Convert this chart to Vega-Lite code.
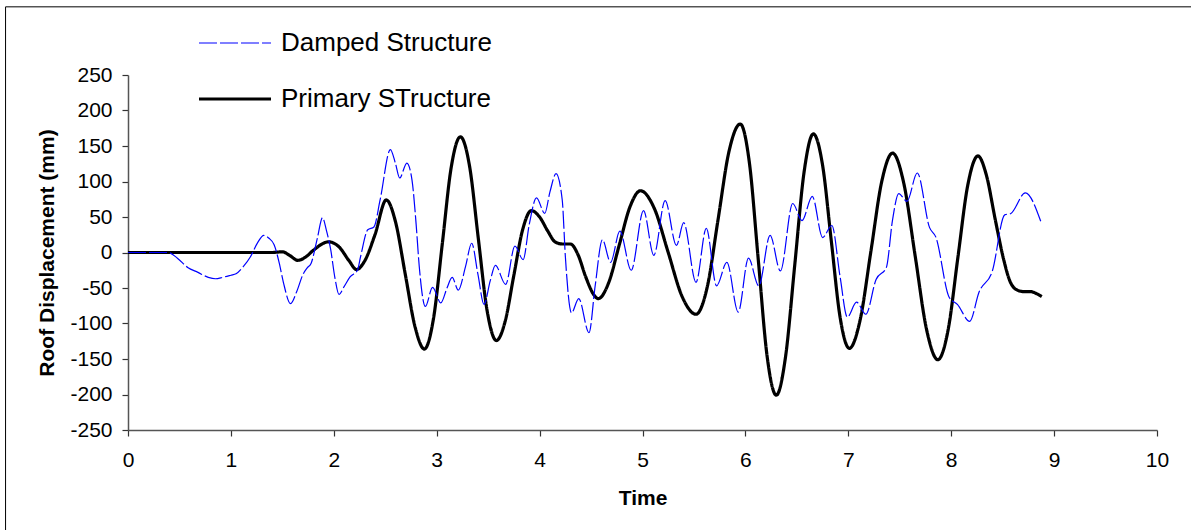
{
  "$schema": "https://vega.github.io/schema/vega-lite/v6.json",
  "width": 1029,
  "height": 355,
  "autosize": {"type": "none"},
  "padding": {"left": 128, "top": 75, "right": 34, "bottom": 100},
  "background": "white",
  "config": {
    "view": {"stroke": null},
    "font": "Liberation Sans",
    "axis": {
      "grid": false,
      "domainColor": "#555555",
      "domainWidth": 1.5,
      "tickColor": "#333333",
      "tickWidth": 1.2,
      "tickSize": 6,
      "labelFont": "Liberation Sans",
      "labelFontSize": 21,
      "labelColor": "#000000",
      "labelOverlap": false,
      "titleFont": "Liberation Sans",
      "titleFontSize": 21,
      "titleFontWeight": "bold",
      "titleColor": "#000000"
    }
  },
  "datasets": {
    "frame": [{"x1": -1.19, "x2": 10.6, "y1": 346, "y2": -430}],
    "series": [
      {"t": 0, "d": 0, "s": "Primary STructure"},
      {"t": 0.5, "d": 0, "s": "Primary STructure"},
      {"t": 1.0, "d": 0, "s": "Primary STructure"},
      {"t": 1.4, "d": 0, "s": "Primary STructure"},
      {"t": 1.5, "d": 1, "s": "Primary STructure"},
      {"t": 1.57, "d": -4, "s": "Primary STructure"},
      {"t": 1.65, "d": -11, "s": "Primary STructure"},
      {"t": 1.73, "d": -6, "s": "Primary STructure"},
      {"t": 1.8, "d": 3, "s": "Primary STructure"},
      {"t": 1.95, "d": 15, "s": "Primary STructure"},
      {"t": 2.05, "d": 8, "s": "Primary STructure"},
      {"t": 2.15, "d": -12, "s": "Primary STructure"},
      {"t": 2.22, "d": -24, "s": "Primary STructure"},
      {"t": 2.3, "d": -12, "s": "Primary STructure"},
      {"t": 2.4, "d": 25, "s": "Primary STructure"},
      {"t": 2.51, "d": 74, "s": "Primary STructure"},
      {"t": 2.6, "d": 43, "s": "Primary STructure"},
      {"t": 2.695, "d": -31, "s": "Primary STructure"},
      {"t": 2.79, "d": -105, "s": "Primary STructure"},
      {"t": 2.88, "d": -136, "s": "Primary STructure"},
      {"t": 2.97, "d": -92, "s": "Primary STructure"},
      {"t": 3.055, "d": 13, "s": "Primary STructure"},
      {"t": 3.14, "d": 119, "s": "Primary STructure"},
      {"t": 3.23, "d": 163, "s": "Primary STructure"},
      {"t": 3.32, "d": 121, "s": "Primary STructure"},
      {"t": 3.405, "d": 19, "s": "Primary STructure"},
      {"t": 3.49, "d": -82, "s": "Primary STructure"},
      {"t": 3.58, "d": -124, "s": "Primary STructure"},
      {"t": 3.665, "d": -97, "s": "Primary STructure"},
      {"t": 3.75, "d": -32, "s": "Primary STructure"},
      {"t": 3.835, "d": 32, "s": "Primary STructure"},
      {"t": 3.92, "d": 59, "s": "Primary STructure"},
      {"t": 4.0, "d": 50, "s": "Primary STructure"},
      {"t": 4.08, "d": 30, "s": "Primary STructure"},
      {"t": 4.15, "d": 15, "s": "Primary STructure"},
      {"t": 4.22, "d": 12, "s": "Primary STructure"},
      {"t": 4.3, "d": 12, "s": "Primary STructure"},
      {"t": 4.37, "d": -2, "s": "Primary STructure"},
      {"t": 4.45, "d": -35, "s": "Primary STructure"},
      {"t": 4.52, "d": -58, "s": "Primary STructure"},
      {"t": 4.57, "d": -65, "s": "Primary STructure"},
      {"t": 4.67, "d": -43, "s": "Primary STructure"},
      {"t": 4.775, "d": 11, "s": "Primary STructure"},
      {"t": 4.88, "d": 65, "s": "Primary STructure"},
      {"t": 4.98, "d": 87, "s": "Primary STructure"},
      {"t": 5.115, "d": 62, "s": "Primary STructure"},
      {"t": 5.25, "d": 0, "s": "Primary STructure"},
      {"t": 5.385, "d": -62, "s": "Primary STructure"},
      {"t": 5.52, "d": -87, "s": "Primary STructure"},
      {"t": 5.63, "d": -48, "s": "Primary STructure"},
      {"t": 5.735, "d": 47, "s": "Primary STructure"},
      {"t": 5.84, "d": 142, "s": "Primary STructure"},
      {"t": 5.95, "d": 181, "s": "Primary STructure"},
      {"t": 6.04, "d": 125, "s": "Primary STructure"},
      {"t": 6.125, "d": -10, "s": "Primary STructure"},
      {"t": 6.21, "d": -145, "s": "Primary STructure"},
      {"t": 6.3, "d": -201, "s": "Primary STructure"},
      {"t": 6.39, "d": -147, "s": "Primary STructure"},
      {"t": 6.48, "d": -17, "s": "Primary STructure"},
      {"t": 6.57, "d": 113, "s": "Primary STructure"},
      {"t": 6.66, "d": 167, "s": "Primary STructure"},
      {"t": 6.75, "d": 123, "s": "Primary STructure"},
      {"t": 6.835, "d": 16, "s": "Primary STructure"},
      {"t": 6.92, "d": -91, "s": "Primary STructure"},
      {"t": 7.01, "d": -135, "s": "Primary STructure"},
      {"t": 7.115, "d": -95, "s": "Primary STructure"},
      {"t": 7.22, "d": 2, "s": "Primary STructure"},
      {"t": 7.325, "d": 100, "s": "Primary STructure"},
      {"t": 7.43, "d": 140, "s": "Primary STructure"},
      {"t": 7.54, "d": 97, "s": "Primary STructure"},
      {"t": 7.65, "d": -5, "s": "Primary STructure"},
      {"t": 7.76, "d": -108, "s": "Primary STructure"},
      {"t": 7.87, "d": -151, "s": "Primary STructure"},
      {"t": 7.97, "d": -109, "s": "Primary STructure"},
      {"t": 8.065, "d": -7, "s": "Primary STructure"},
      {"t": 8.16, "d": 94, "s": "Primary STructure"},
      {"t": 8.26, "d": 136, "s": "Primary STructure"},
      {"t": 8.34, "d": 110, "s": "Primary STructure"},
      {"t": 8.43, "d": 45, "s": "Primary STructure"},
      {"t": 8.51, "d": -10, "s": "Primary STructure"},
      {"t": 8.57, "d": -40, "s": "Primary STructure"},
      {"t": 8.63, "d": -52, "s": "Primary STructure"},
      {"t": 8.7, "d": -55, "s": "Primary STructure"},
      {"t": 8.77, "d": -55, "s": "Primary STructure"},
      {"t": 8.83, "d": -58, "s": "Primary STructure"},
      {"t": 8.88, "d": -62, "s": "Primary STructure"},

      {"t": 0, "d": 0, "s": "Damped Structure"},
      {"t": 0.2, "d": 0, "s": "Damped Structure"},
      {"t": 0.39, "d": 0, "s": "Damped Structure"},
      {"t": 0.48, "d": -8, "s": "Damped Structure"},
      {"t": 0.58, "d": -21, "s": "Damped Structure"},
      {"t": 0.68, "d": -28, "s": "Damped Structure"},
      {"t": 0.78, "d": -35, "s": "Damped Structure"},
      {"t": 0.85, "d": -37, "s": "Damped Structure"},
      {"t": 0.92, "d": -35, "s": "Damped Structure"},
      {"t": 1.0, "d": -32, "s": "Damped Structure"},
      {"t": 1.05, "d": -30, "s": "Damped Structure"},
      {"t": 1.12, "d": -20, "s": "Damped Structure"},
      {"t": 1.19, "d": -6, "s": "Damped Structure"},
      {"t": 1.26, "d": 14, "s": "Damped Structure"},
      {"t": 1.32, "d": 24, "s": "Damped Structure"},
      {"t": 1.37, "d": 20, "s": "Damped Structure"},
      {"t": 1.42, "d": 11, "s": "Damped Structure"},
      {"t": 1.47, "d": -15, "s": "Damped Structure"},
      {"t": 1.51, "d": -42, "s": "Damped Structure"},
      {"t": 1.58, "d": -72, "s": "Damped Structure"},
      {"t": 1.64, "d": -55, "s": "Damped Structure"},
      {"t": 1.7, "d": -31, "s": "Damped Structure"},
      {"t": 1.74, "d": -22, "s": "Damped Structure"},
      {"t": 1.78, "d": -15, "s": "Damped Structure"},
      {"t": 1.84, "d": 20, "s": "Damped Structure"},
      {"t": 1.89, "d": 49, "s": "Damped Structure"},
      {"t": 1.93, "d": 30, "s": "Damped Structure"},
      {"t": 1.97, "d": 4, "s": "Damped Structure"},
      {"t": 2.01, "d": -35, "s": "Damped Structure"},
      {"t": 2.05, "d": -59, "s": "Damped Structure"},
      {"t": 2.1, "d": -48, "s": "Damped Structure"},
      {"t": 2.16, "d": -34, "s": "Damped Structure"},
      {"t": 2.23, "d": -25, "s": "Damped Structure"},
      {"t": 2.26, "d": -6, "s": "Damped Structure"},
      {"t": 2.33, "d": 32, "s": "Damped Structure"},
      {"t": 2.39, "d": 36, "s": "Damped Structure"},
      {"t": 2.45, "d": 74, "s": "Damped Structure"},
      {"t": 2.55, "d": 145, "s": "Damped Structure"},
      {"t": 2.6, "d": 125, "s": "Damped Structure"},
      {"t": 2.64, "d": 105, "s": "Damped Structure"},
      {"t": 2.71, "d": 126, "s": "Damped Structure"},
      {"t": 2.76, "d": 102, "s": "Damped Structure"},
      {"t": 2.8, "d": 40, "s": "Damped Structure"},
      {"t": 2.83, "d": -19, "s": "Damped Structure"},
      {"t": 2.89, "d": -76, "s": "Damped Structure"},
      {"t": 2.96, "d": -49, "s": "Damped Structure"},
      {"t": 3.04, "d": -71, "s": "Damped Structure"},
      {"t": 3.1, "d": -50, "s": "Damped Structure"},
      {"t": 3.15, "d": -35, "s": "Damped Structure"},
      {"t": 3.21, "d": -53, "s": "Damped Structure"},
      {"t": 3.28, "d": -20, "s": "Damped Structure"},
      {"t": 3.34, "d": 13, "s": "Damped Structure"},
      {"t": 3.4, "d": -30, "s": "Damped Structure"},
      {"t": 3.46, "d": -73, "s": "Damped Structure"},
      {"t": 3.52, "d": -40, "s": "Damped Structure"},
      {"t": 3.57, "d": -18, "s": "Damped Structure"},
      {"t": 3.67, "d": -45, "s": "Damped Structure"},
      {"t": 3.76, "d": 9, "s": "Damped Structure"},
      {"t": 3.84, "d": -10, "s": "Damped Structure"},
      {"t": 3.9, "d": 40, "s": "Damped Structure"},
      {"t": 3.97, "d": 77, "s": "Damped Structure"},
      {"t": 4.05, "d": 55, "s": "Damped Structure"},
      {"t": 4.1, "d": 85, "s": "Damped Structure"},
      {"t": 4.16, "d": 111, "s": "Damped Structure"},
      {"t": 4.22, "d": 74, "s": "Damped Structure"},
      {"t": 4.25, "d": -5, "s": "Damped Structure"},
      {"t": 4.31, "d": -85, "s": "Damped Structure"},
      {"t": 4.38, "d": -65, "s": "Damped Structure"},
      {"t": 4.48, "d": -113, "s": "Damped Structure"},
      {"t": 4.54, "d": -47, "s": "Damped Structure"},
      {"t": 4.61, "d": 18, "s": "Damped Structure"},
      {"t": 4.69, "d": -14, "s": "Damped Structure"},
      {"t": 4.78, "d": 30, "s": "Damped Structure"},
      {"t": 4.89, "d": -25, "s": "Damped Structure"},
      {"t": 5.01, "d": 59, "s": "Damped Structure"},
      {"t": 5.11, "d": -4, "s": "Damped Structure"},
      {"t": 5.22, "d": 73, "s": "Damped Structure"},
      {"t": 5.33, "d": 10, "s": "Damped Structure"},
      {"t": 5.4, "d": 42, "s": "Damped Structure"},
      {"t": 5.52, "d": -42, "s": "Damped Structure"},
      {"t": 5.62, "d": 34, "s": "Damped Structure"},
      {"t": 5.72, "d": -47, "s": "Damped Structure"},
      {"t": 5.82, "d": -14, "s": "Damped Structure"},
      {"t": 5.93, "d": -84, "s": "Damped Structure"},
      {"t": 6.03, "d": -8, "s": "Damped Structure"},
      {"t": 6.13, "d": -47, "s": "Damped Structure"},
      {"t": 6.24, "d": 24, "s": "Damped Structure"},
      {"t": 6.34, "d": -26, "s": "Damped Structure"},
      {"t": 6.46, "d": 69, "s": "Damped Structure"},
      {"t": 6.55, "d": 45, "s": "Damped Structure"},
      {"t": 6.65, "d": 79, "s": "Damped Structure"},
      {"t": 6.75, "d": 21, "s": "Damped Structure"},
      {"t": 6.84, "d": 38, "s": "Damped Structure"},
      {"t": 6.92, "d": -34, "s": "Damped Structure"},
      {"t": 6.99, "d": -91, "s": "Damped Structure"},
      {"t": 7.08, "d": -70, "s": "Damped Structure"},
      {"t": 7.17, "d": -87, "s": "Damped Structure"},
      {"t": 7.27, "d": -38, "s": "Damped Structure"},
      {"t": 7.37, "d": -21, "s": "Damped Structure"},
      {"t": 7.43, "d": 46, "s": "Damped Structure"},
      {"t": 7.49, "d": 83, "s": "Damped Structure"},
      {"t": 7.57, "d": 72, "s": "Damped Structure"},
      {"t": 7.67, "d": 112, "s": "Damped Structure"},
      {"t": 7.79, "d": 35, "s": "Damped Structure"},
      {"t": 7.85, "d": 22, "s": "Damped Structure"},
      {"t": 7.98, "d": -63, "s": "Damped Structure"},
      {"t": 8.06, "d": -73, "s": "Damped Structure"},
      {"t": 8.18, "d": -97, "s": "Damped Structure"},
      {"t": 8.27, "d": -56, "s": "Damped Structure"},
      {"t": 8.4, "d": -26, "s": "Damped Structure"},
      {"t": 8.52, "d": 53, "s": "Damped Structure"},
      {"t": 8.58, "d": 55, "s": "Damped Structure"},
      {"t": 8.72, "d": 84, "s": "Damped Structure"},
      {"t": 8.87, "d": 44, "s": "Damped Structure"}
    ]
  },
  "layer": [
    {
      "data": {"name": "frame"},
      "mark": {"type": "rect", "fill": null, "stroke": "#000000", "strokeWidth": 1, "clip": false},
      "encoding": {
        "x": {
          "field": "x1", "type": "quantitative",
          "scale": {"domain": [0, 10], "nice": false, "zero": false},
          "axis": {"title": "Time", "values": [0,1,2,3,4,5,6,7,8,9,10], "labelExpr": "'' + datum.value", "labelPadding": 13, "titlePadding": 17, "labelFlush": false}
        },
        "x2": {"field": "x2"},
        "y": {
          "field": "y1", "type": "quantitative",
          "scale": {"domain": [-250, 250], "nice": false},
          "axis": {"title": "Roof Displacement (mm)", "values": [-250,-200,-150,-100,-50,0,50,100,150,200,250], "labelExpr": "'' + datum.value", "labelPadding": 10, "titlePadding": 12, "labelFlush": false}
        },
        "y2": {"field": "y2"}
      }
    },
    {
      "data": {"name": "series"},
      "mark": {"type": "line", "interpolate": "monotone"},
      "encoding": {
        "x": {
          "field": "t", "type": "quantitative",
          "scale": {"domain": [0, 10], "nice": false, "zero": false},
          "axis": {"title": "Time", "values": [0,1,2,3,4,5,6,7,8,9,10], "labelExpr": "'' + datum.value", "labelPadding": 13, "titlePadding": 17, "labelFlush": false}
        },
        "y": {
          "field": "d", "type": "quantitative",
          "scale": {"domain": [-250, 250], "nice": false},
          "axis": {"title": "Roof Displacement (mm)", "values": [-250,-200,-150,-100,-50,0,50,100,150,200,250], "labelExpr": "'' + datum.value", "labelPadding": 10, "titlePadding": 12, "labelFlush": false}
        },
        "color": {
          "field": "s", "type": "nominal",
          "scale": {"domain": ["Damped Structure", "Primary STructure"], "range": ["#0000FF", "#000000"]},
          "legend": {
            "title": null,
            "orient": "none",
            "legendX": 69,
            "legendY": -69,
            "symbolType": "stroke",
            "symbolSize": 5184,
            "labelFontSize": 26,
            "labelFont": "Liberation Sans",
            "labelColor": "#000000",
            "labelOffset": 8,
            "rowPadding": 5,
            "labelLimit": 400,
            "encode": {
              "symbols": {
                "update": {
                  "strokeDash": {"signal": "datum.value === 'Damped Structure' ? [9, 6] : [1, 0]"}
                }
              }
            }
          }
        },
        "strokeWidth": {
          "field": "s", "type": "nominal",
          "scale": {"domain": ["Damped Structure", "Primary STructure"], "range": [1.2, 3.2]}
        },
        "strokeDash": {
          "field": "s", "type": "nominal",
          "scale": {"domain": ["Damped Structure", "Primary STructure"], "range": [[18, 3], [1, 0]]}
        }
      }
    }
  ]
}
